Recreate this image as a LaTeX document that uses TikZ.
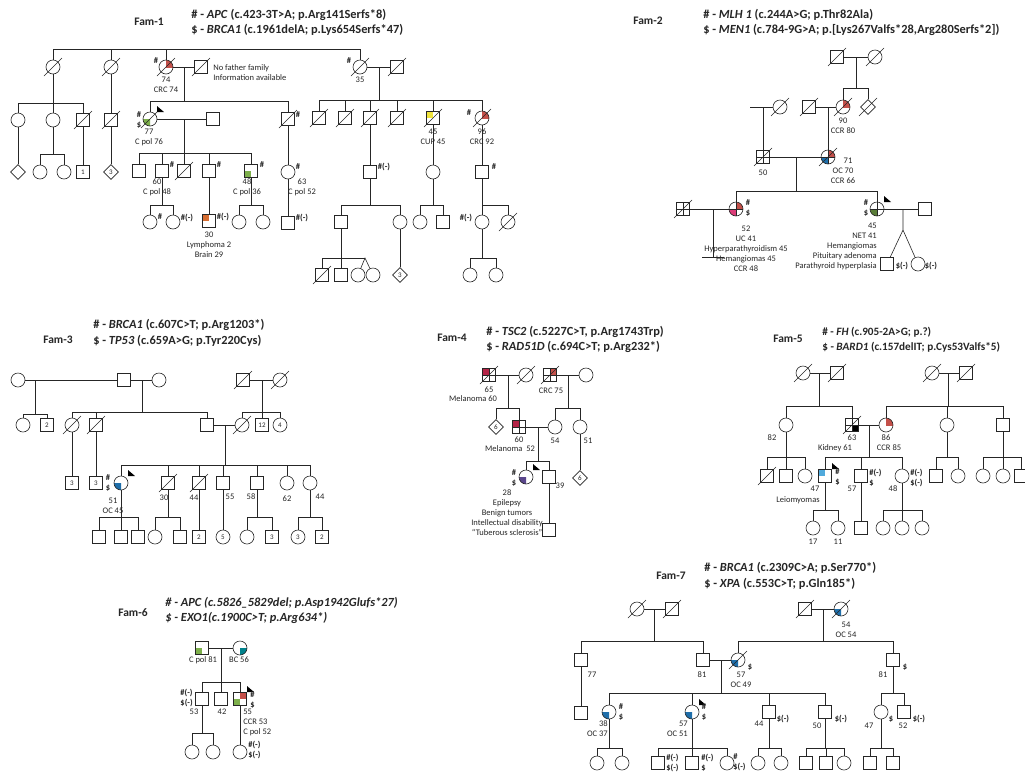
\documentclass[tikz,border=0pt]{standalone}
\usepackage{fontspec}
\setmainfont{Carlito}
\usetikzlibrary{shapes.geometric,backgrounds}

\definecolor{crc}{RGB}{196,80,74}
\definecolor{cpol}{RGB}{125,175,75}
\definecolor{dkgreen}{RGB}{90,125,55}
\definecolor{lymph}{RGB}{215,110,50}
\definecolor{cup}{RGB}{240,228,60}
\definecolor{oc}{RGB}{30,110,170}
\definecolor{uc}{RGB}{220,60,120}
\definecolor{mel}{RGB}{180,35,70}
\definecolor{tsc}{RGB}{90,70,140}
\definecolor{leio}{RGB}{80,170,220}
\definecolor{bc}{RGB}{0,130,140}

\tikzset{
  male/.style={draw, rectangle, minimum size=13pt, inner sep=0pt, font=\fontsize{7}{7}\selectfont},
  female/.style={draw, circle, minimum size=14pt, inner sep=0pt, font=\fontsize{7}{7}\selectfont},
  unk/.style={draw, diamond, minimum size=15pt, inner sep=0pt, font=\fontsize{7}{7}\selectfont},
  lbl/.style={font=\fontsize{8.5}{10}\selectfont, inner sep=0pt, align=center},
  gt/.style={font=\fontsize{8.5}{10}\selectfont\bfseries, inner sep=0pt, align=center},
  hdr/.style={font=\fontsize{12.4}{15.5}\selectfont\bfseries, anchor=west, align=left, inner sep=0pt},
  fam/.style={font=\fontsize{11.5}{13}\selectfont\bfseries, inner sep=0pt}
}

% deceased, quartered, quadrant fills, proband
\newcommand{\dead}[1]{\draw ([shift={(-9pt,-9pt)}]#1.center) -- ([shift={(9pt,9pt)}]#1.center);}
\newcommand{\qline}[1]{\draw (#1.north) -- (#1.south) (#1.west) -- (#1.east);}
\newcommand{\qc}[4]{\begin{scope}[on background layer]\begin{scope}
  \clip (#1.center) rectangle ([shift={(#2*8pt,#3*8pt)}]#1.center);
  \fill[#4] (#1.center) circle[radius=7pt];
  \end{scope}\end{scope}}
\newcommand{\qs}[4]{\begin{scope}[on background layer]
  \fill[#4] (#1.center) rectangle ([shift={(#2*6.5pt,#3*6.5pt)}]#1.center);
  \end{scope}}
\newcommand{\prob}[1]{\fill[black] ([shift={(7pt,13pt)}]#1.center) -- ++(0,6) -- ++(7,0) -- cycle;}
% descent line, sibship line, lines to children
\newcommand{\brood}[5]{\draw (#1) -- (#2) (#3 |- #2) -- (#4 |- #2);
  \foreach \kid in {#5} {\draw (\kid) -- (\kid |- #2);}}

\begin{document}
\begin{tikzpicture}[x=1pt, y=-1pt, line width=0.6pt, color=black!85]
\begin{scope}[on background layer]
\fill[white] (0,0) rectangle (1025,772);
\end{scope}
\useasboundingbox (0,0) rectangle (1025,772);

% ================= Fam-1
\node[fam] (f1) at (149,22) {Fam-1};
\node[hdr] (f1h) at (191,22.5) {\# - \textit{APC} (c.423-3T>A; p.Arg141Serfs*8)\\\$ - \textit{BRCA1} (c.1961delA; p.Lys654Serfs*47)};
\node[female] (a1) at (53,67) {};
\node[female] (a2) at (111,67) {};
\node[female] (a3) at (166,67) {};
\node[male]   (a4) at (201,67) {};
\node[female] (a5) at (360,67) {};
\node[male]   (a6) at (397,67) {};
\coordinate (s0) at (53,49);
\draw (a1) -- (s0) -- (a5 |- s0) -- (a5);
\foreach \kid in {a2,a3} {\draw (\kid) -- (\kid |- s0);}
\draw (a3) -- (a4) (a5) -- (a6);
\node[gt] (a3g) at (156,61) {\#};
\node[lbl] (a3t) at (166,85) {74\\CRC 74};
\node[lbl, anchor=west, align=left] (a4t) at (213,73) {No father family\\Information available};
\node[gt] (a5g) at (349,61) {\#};
\node[lbl] (a5t) at (360,80) {35};

\node[female] (b1) at (18,120) {};
\node[female] (b2) at (53,120) {};
\node[male]   (b3) at (83,120) {};
\node[male]   (b4) at (111,120) {};
\node[female] (b5) at (150,119) {};
\node[male]   (b7) at (213,119) {};
\node[male]   (b6) at (288,119) {};
\node[male]   (b8) at (319,118) {};
\node[male]   (b9) at (345,118) {};
\node[male]   (b10) at (370,118) {};
\node[male]   (b11) at (397,118) {};
\node[male]   (b12) at (433,118) {};
\node[female] (b13) at (482,118) {};
\coordinate (s1) at (53,103); \brood{a1}{s1}{b1}{b3}{b1,b2,b3}
\draw (a2) -- (b4);
\coordinate (m1) at (184,67); \coordinate (s2) at (184,101);
\brood{m1}{s2}{b5}{b6}{b5,b6}
\coordinate (m2) at (379,67); \coordinate (s3) at (379,100);
\brood{m2}{s3}{b8}{b13}{b8,b9,b10,b11,b12,b13}
\draw (b5) -- (b7);
\node[gt] (b5g) at (139,120) {\#\\\$};
\node[lbl] (b5t) at (149,137) {77\\C pol 76};
\node[gt] (b6g) at (298,115) {\#};
\node[lbl] (b12t) at (433,137) {45\\CUP 45};
\node[gt] (b13g) at (469,113) {\#};
\node[lbl] (b13t) at (482,137) {96\\CRC 92};

\node[unk]    (c1) at (18,172) {};
\node[female] (c2) at (40,172) {};
\node[female] (c3) at (64,172) {};
\node[male]   (c4) at (83,172) {1};
\node[unk]    (c5) at (111,172) {3};
\node[male]   (c6) at (139,171) {};
\node[male]   (c7) at (162,171) {};
\node[male]   (c8) at (184,171) {};
\node[male]   (c9) at (209,171) {};
\node[male]   (c10) at (251,171) {};
\node[female] (c11) at (288,172) {};
\node[male]   (c12) at (370,172) {};
\node[female] (c13) at (433,172) {};
\node[male]   (c14) at (482,172) {};
\draw (b1) -- (c1) (b3) -- (c4) (b4) -- (c5);
\coordinate (s4) at (53,154); \brood{b2}{s4}{c2}{c3}{c2,c3}
\coordinate (m3) at (184,119); \coordinate (s5) at (184,153);
\brood{m3}{s5}{c6}{c10}{c6,c7,c8,c9,c10}
\draw (b6) -- (c11) (b10) -- (c12) (b12) -- (c13) (b13) -- (c14);
\node[gt] (c7g) at (172,165) {\#};
\node[gt] (c9g) at (219,165) {\#};
\node[gt] (c10g) at (262,165) {\#};
\node[lbl] (c7t) at (157,187) {60\\C pol 48};
\node[lbl] (c10t) at (247,187) {48\\C pol 36};
\node[gt] (c11g) at (298,167) {\#};
\node[lbl] (c11t) at (302,187) {63\\C pol 52};
\node[gt] (c12g) at (384,167) {\#(-)};
\node[gt] (c14g) at (494,167) {\#};

\node[female] (d1) at (150,222) {};
\node[female] (d2) at (173,222) {};
\node[male]   (d3) at (209,221) {};
\node[female] (d4) at (239,222) {};
\node[female] (d5) at (263,222) {};
\node[male]   (d6) at (288,223) {};
\node[male]   (d7) at (341,222) {};
\node[female] (d8) at (400,222) {};
\node[female] (d9) at (420,222) {};
\node[male]   (d10) at (443,222) {};
\node[female] (d11) at (482,222) {};
\node[female] (d12) at (508,222) {};
\coordinate (s6) at (162,205); \brood{c7}{s6}{d1}{d2}{d1,d2}
\draw (c9) -- (d3) (c11) -- (d6);
\coordinate (s7) at (251,205); \brood{c10}{s7}{d4}{d5}{d4,d5}
\coordinate (s8) at (370,205); \brood{c12}{s8}{d7}{d8}{d7,d8}
\coordinate (s9) at (433,205); \brood{c13}{s9}{d9}{d10}{d9,d10}
\coordinate (s10) at (482,205); \brood{c14}{s10}{d11}{d12}{d11,d12}
\node[gt] (d1g) at (160,217) {\#};
\node[gt] (d2g) at (187,218) {\#(-)};
\node[gt] (d3g) at (223,217) {\#(-)};
\node[lbl] (d3t) at (209,245) {30\\Lymphoma 2\\Brain 29};
\node[gt] (d6g) at (302,218) {\#(-)};
\node[gt] (d11g) at (466,218) {\#(-)};

\node[male]   (e1) at (322,275) {};
\node[male]   (e2) at (341,275) {};
\node[female] (e3) at (358,275) {};
\node[female] (e4) at (373,275) {};
\node[unk]    (e5) at (400,275) {3};
\node[female] (e6) at (470,275) {};
\node[female] (e7) at (496,275) {};
\coordinate (s11) at (341,258); \coordinate (tw1) at (365,258);
\brood{d7}{s11}{e1}{tw1}{e1,e2}
\draw (e3) -- (tw1) -- (e4);
\draw (d8) -- (e5);
\coordinate (s12) at (482,258); \brood{d11}{s12}{e6}{e7}{e6,e7}

\foreach \kid in {a1,a2,a3,a4,a5,a6,b3,b4,b5,b6,b8,b9,b10,b11,b12,b13,c8,d12,e1} {\dead{\kid}}
\qc{a3}{1}{1}{crc} \qc{b13}{1}{1}{crc} \qc{b5}{-1}{-1}{cpol}
\qs{b12}{-1}{1}{cup} \qs{c10}{-1}{-1}{cpol} \qs{d3}{-1}{1}{lymph}
\prob{b5}

% ================= Fam-2
\node[fam] (f2) at (648,21) {Fam-2};
\node[hdr] (f2h) at (703,22.5) {\# - \textit{MLH 1} (c.244A>G; p.Thr82Ala)\\\$ - \textit{MEN1} (c.784-9G>A; p.[Lys267Valfs*28,Arg280Serfs*2])};
\node[male]   (g1) at (837,57) {};
\node[female] (g2) at (875,57) {};
\node[female] (g3) at (843,107) {};
\node[unk]    (g4) at (868,107) {};
\node[male]   (g5) at (809,107) {};
\node[female] (g6) at (780,107) {};
\node[male]   (g7) at (763,157) {};
\node[female] (g8) at (828,157) {};
\node[female] (g9) at (736,209) {};
\node[male]   (g10) at (683,209) {};
\node[female] (g11) at (877,209) {};
\node[male]   (g12) at (925,209) {};
\node[male]   (g13) at (887,264) {};
\node[female] (g14) at (918,264) {};
\draw (g1) -- (g2);
\coordinate (m4) at (856,57); \coordinate (s13) at (856,88);
\brood{m4}{s13}{g3}{g4}{g3,g4}
\draw (g5) -- (g3);
\coordinate (m5) at (828,107); \draw (m5) -- (g8);
\coordinate (g0) at (750,107); \draw (g0) -- (g6);
\coordinate (m6) at (763,107); \draw (m6) -- (g7);
\draw (g7) -- (g8);
\coordinate (m7) at (796,157); \coordinate (s14) at (796,191);
\brood{m7}{s14}{g9}{g11}{g9,g11}
\draw (g10) -- (g9);
\coordinate (m8) at (713,209); \coordinate (nc) at (713,257);
\draw (m8) -- (nc) ([xshift=-11pt]nc) -- ([xshift=11pt]nc);
\draw (g11) -- (g12);
\coordinate (m9) at (903,209); \coordinate (tw2) at (903,230);
\draw (m9) -- (tw2) (g13) -- (tw2) -- (g14);
\foreach \kid in {g7,g8,g9,g10,g11} {\qline{\kid}}
\foreach \kid in {g1,g2,g3,g4,g5,g6,g7,g8,g10} {\dead{\kid}}
\qc{g3}{1}{1}{crc} \qc{g8}{1}{1}{crc} \qc{g8}{-1}{-1}{oc}
\qc{g9}{1}{1}{crc} \qc{g9}{-1}{-1}{uc} \qc{g11}{-1}{-1}{dkgreen}
\prob{g11}
\node[lbl] (g3t) at (843,126) {90\\CCR 80};
\node[lbl] (g7t) at (763,173) {50};
\node[lbl] (g8a) at (848,161) {71};
\node[lbl] (g8t) at (843,176) {OC 70\\CCR 66};
\node[gt] (g9g) at (748,208.5) {\#\\\$};
\node[lbl] (g9t) at (746,249) {52\\UC 41\\Hyperparathyroidism 45\\Hemangiomas 45\\CCR 48};
\node[gt] (g11g) at (866,208.5) {\#\\\$};
\node[lbl, anchor=east, align=right] (g11t) at (877,246) {45\\NET 41\\Hemangiomas\\Pituitary adenoma\\Parathyroid hyperplasia};
\node[gt] (g13g) at (902,266) {\$(-)};
\node[gt] (g14g) at (931,266) {\$(-)};

% ================= Fam-3
\node[fam] (f3) at (58,340) {Fam-3};
\node[hdr] (f3h) at (93,333) {\# - \textit{BRCA1} (c.607C>T; p.Arg1203*)\\\$ - \textit{TP53} (c.659A>G; p.Tyr220Cys)};
\node[female] (h1) at (18,380) {};
\node[male]   (h2) at (124,380) {};
\node[female] (h3) at (159,380) {};
\node[male]   (h4) at (243,380) {};
\node[female] (h5) at (280,380) {};
\node[female] (i1) at (23,425) {};
\node[male]   (i2) at (47,425) {2};
\node[female] (i3) at (72,425) {};
\node[male]   (i4) at (96,425) {};
\node[male]   (i5) at (207,425) {};
\node[female] (i6) at (242,425) {};
\node[male]   (i7) at (262,425) {12};
\node[female] (i8) at (280,425) {4};
\draw (h1) -- (h2) -- (h3) (h4) -- (h5) (i5) -- (i6);
\coordinate (m10) at (35,380); \coordinate (s15) at (35,414);
\brood{m10}{s15}{i1}{i2}{i1,i2}
\coordinate (m11) at (142,380); \coordinate (s16) at (142,412);
\brood{m11}{s16}{i3}{i5}{i3,i4,i5}
\coordinate (m12) at (262,380); \coordinate (s17) at (262,412);
\brood{m12}{s17}{i6}{i8}{i6,i7,i8}
\node[male]   (j8) at (72,483) {3};
\node[male]   (j9) at (96,483) {3};
\node[female] (j1) at (121,483) {};
\node[male]   (j2) at (168,483) {};
\node[male]   (j3) at (199,483) {};
\node[male]   (j4) at (223,483) {};
\node[male]   (j5) at (257,483) {};
\node[female] (j6) at (287,483) {};
\node[female] (j7) at (310,483) {};
\draw (i3) -- (j8) (i4) -- (j9);
\coordinate (m13) at (225,425); \coordinate (s18) at (225,465);
\brood{m13}{s18}{j1}{j7}{j1,j2,j3,j4,j5,j6,j7}
\node[male]   (k1) at (99,537) {};
\node[male]   (k2) at (121,537) {};
\node[male]   (k3) at (138,537) {};
\node[female] (k4) at (155,537) {};
\node[male]   (k5) at (180,537) {};
\node[male]   (k6) at (199,537) {2};
\node[female] (k7) at (223,537) {5};
\node[female] (k8) at (247,537) {};
\node[male]   (k9) at (272,537) {3};
\node[female] (k10) at (298,537) {3};
\node[male]   (k11) at (322,537) {2};
\coordinate (s19) at (121,517); \brood{j1}{s19}{k1}{k3}{k1,k2,k3}
\coordinate (s20) at (168,517); \brood{j2}{s20}{k4}{k5}{k4,k5}
\draw (j3) -- (k6) (j4) -- (k7);
\coordinate (s21) at (257,517); \brood{j5}{s21}{k8}{k9}{k8,k9}
\coordinate (s22) at (310,517); \brood{j7}{s22}{k10}{k11}{k10,k11}
\foreach \kid in {h4,h5,i3,i4,i6,j2,j3} {\dead{\kid}}
\qc{j1}{-1}{-1}{oc}
\prob{j1}
\node[gt] (j1g) at (108,483) {\#\\\$};
\node[lbl] (j1t) at (113,506) {51\\OC 45};
\node[lbl] (j2t) at (164,498) {30};
\node[lbl] (j3t) at (194,498) {44};
\node[lbl] (j4t) at (230,497) {55};
\node[lbl] (j5t) at (251,497) {58};
\node[lbl] (j6t) at (287,499) {62};
\node[lbl] (j7t) at (320,497) {44};

% ================= Fam-4
\node[fam] (f4) at (452,338) {Fam-4};
\node[hdr] (f4h) at (486,339.5) {\# - \textit{TSC2} (c.5227C>T, p.Arg1743Trp)\\\$ - \textit{RAD51D} (c.694C>T; p.Arg232*)};
\node[male]   (w1) at (489,375) {};
\node[female] (w2) at (526,375) {};
\node[male]   (w3) at (550,375) {};
\node[female] (w4) at (586,375) {};
\node[unk]    (w5) at (496,427) {6};
\node[male]   (w6) at (519,427) {};
\node[female] (w7) at (555,427) {};
\node[female] (w8) at (580,427) {};
\node[unk]    (w9) at (580,478) {6};
\node[female] (w10) at (526,477) {};
\node[male]   (w11) at (549,477) {};
\node[male]   (w12) at (549,530) {};
\draw (w1) -- (w2) (w3) -- (w4) (w6) -- (w7);
\coordinate (m14) at (508,375); \coordinate (s23) at (508,408);
\brood{m14}{s23}{w5}{w6}{w5,w6}
\coordinate (m15) at (568,375); \coordinate (s24) at (568,408);
\brood{m15}{s24}{w7}{w8}{w7,w8}
\coordinate (m16) at (538,427); \coordinate (s25) at (538,461);
\brood{m16}{s25}{w10}{w11}{w10,w11}
\draw (w8) -- (w9) (w11) -- (w12);
\foreach \kid in {w1,w3,w6} {\qline{\kid}}
\foreach \kid in {w1,w2,w3} {\dead{\kid}}
\qs{w1}{-1}{1}{mel} \qs{w3}{1}{1}{crc} \qs{w6}{-1}{1}{mel} \qc{w10}{-1}{-1}{tsc}
\prob{w10}
\node[lbl] (w1a) at (489,390) {65};
\node[lbl] (w1t) at (473,399) {Melanoma 60};
\node[lbl] (w3t) at (551,391) {CRC 75};
\node[lbl] (w6a) at (519,440) {60};
\node[lbl] (w6t) at (510,449) {Melanoma~~52};
\node[lbl] (w7t) at (555,441) {54};
\node[lbl] (w8t) at (588,441) {51};
\node[gt] (w10g) at (514,478) {\#\\\$};
\node[lbl] (w10t) at (507,513) {28\\Epilepsy\\Benign tumors\\Intellectual disability\\``Tuberous sclerosis''};
\node[lbl] (w11t) at (560,486) {39};

% ================= Fam-5
\node[fam] (f5) at (788,339) {Fam-5};
\node[hdr, font=\fontsize{11.2}{15.5}\selectfont\bfseries] (f5h) at (822,339.5) {\# - \textit{FH} (c.905-2A>G; p.?)\\\$ - \textit{BARD1} (c.157delIT; p.Cys53Valfs*5)};
\node[female] (n1) at (803,373) {};
\node[male]   (n2) at (837,373) {};
\node[female] (n3) at (932,373) {};
\node[male]   (n4) at (966,373) {};
\node[female] (n5) at (786,425) {};
\node[male]   (n6) at (852,425) {};
\node[female] (n7) at (886,425) {};
\node[female] (n8) at (947,425) {};
\node[male]   (n9) at (1003,425) {};
\draw (n1) -- (n2) (n3) -- (n4) (n6) -- (n7);
\coordinate (m17) at (819,373); \coordinate (s26) at (819,406);
\brood{m17}{s26}{n5}{n6}{n5,n6}
\coordinate (m18) at (948,373); \coordinate (s27) at (948,406);
\brood{m18}{s27}{n7}{n9}{n7,n8,n9}
\node[male]   (o1) at (767,476) {};
\node[male]   (o2) at (786,476) {};
\node[female] (o3) at (805,476) {};
\node[male]   (o4) at (825,476) {};
\node[male]   (o5) at (861,476) {};
\node[female] (o6) at (902,476) {};
\node[male]   (o7) at (936,476) {};
\node[female] (o8) at (958,476) {};
\node[female] (o9) at (983,476) {};
\node[female] (o10) at (1003,476) {};
\node[male]   (o11) at (1021,476) {};
\coordinate (m19) at (869,425); \coordinate (s28) at (869,457);
\brood{m19}{s28}{o4}{o6}{o4,o5,o6}
\coordinate (s29) at (786,457); \brood{n5}{s29}{o1}{o3}{o1,o2,o3}
\coordinate (s30) at (947,457); \brood{n8}{s30}{o7}{o8}{o7,o8}
\coordinate (s31) at (1003,457); \brood{n9}{s31}{o9}{o11}{o9,o10,o11}
\node[female] (p1) at (813,528) {};
\node[female] (p2) at (838,528) {};
\node[male]   (p3) at (861,528) {};
\node[female] (p4) at (883,528) {};
\node[female] (p5) at (902,528) {};
\node[female] (p6) at (922,528) {};
\coordinate (s32) at (825,510); \brood{o4}{s32}{p1}{p2}{p1,p2}
\draw (o5) -- (p3);
\coordinate (s33) at (902,510); \brood{o6}{s33}{p4}{p6}{p4,p5,p6}
\qline{n6}
\foreach \kid in {n1,n2,n3,n4,n6,o1} {\dead{\kid}}
\qs{n6}{1}{-1}{black} \qc{n7}{1}{1}{crc} \qs{o4}{-1}{1}{leio}
\prob{o4}
\node[lbl] (n5t) at (772,438) {82};
\node[lbl] (n6a) at (852,438) {63};
\node[lbl] (n6t) at (835,448) {Kidney 61};
\node[lbl] (n7a) at (886,438) {86};
\node[lbl] (n7t) at (889,448) {CCR 85};
\node[gt, anchor=west, align=left] (o4g) at (835,477.5) {\#\\\$};
\node[lbl] (o4a) at (815,489) {47};
\node[lbl] (o4t) at (798,500) {Leiomyomas};
\node[gt, anchor=west, align=left] (o5g) at (869,477.5) {\#(-)\\\$};
\node[lbl] (o5t) at (852,489) {57};
\node[gt, anchor=west, align=left] (o6g) at (910,477.5) {\#(-)\\\$(-)};
\node[lbl] (o6t) at (893,489) {48};
\node[lbl] (p1t) at (813,542) {17};
\node[lbl] (p2t) at (838,542) {11};

% ================= Fam-6
\node[fam] (f6) at (133,613) {Fam-6};
\node[hdr] (f6h) at (165,610.5) {\textit{\# - APC (c.5826\_5829del; p.Asp1942Glufs*27)}\\\textit{\$ - EXO1(c.1900C>T; p.Arg634*)}};
\node[male]   (q1) at (202,648) {};
\node[female] (q2) at (240,648) {};
\node[male]   (q3) at (202,699) {};
\node[male]   (q4) at (221,699) {};
\node[male]   (q5) at (240,699) {};
\node[female] (r1) at (192,752) {};
\node[female] (r2) at (213,752) {};
\node[female] (r3) at (240,752) {};
\draw (q1) -- (q2);
\coordinate (m20) at (221,648); \coordinate (s34) at (221,682);
\brood{m20}{s34}{q3}{q5}{q3,q4,q5}
\coordinate (s35) at (202,733); \brood{q3}{s35}{r1}{r2}{r1,r2}
\draw (q5) -- (r3);
\qs{q1}{-1}{-1}{cpol} \qc{q2}{1}{-1}{bc} \qs{q5}{1}{1}{crc} \qs{q5}{-1}{-1}{cpol}
\prob{q5}
\node[lbl] (q1t) at (203,660) {C pol 81};
\node[lbl] (q2t) at (239,660) {BC 56};
\node[gt, anchor=east, align=left] (q3g) at (193,698) {\#(-)\\\$(-)};
\node[lbl] (q3t) at (194,712) {53};
\node[lbl] (q4t) at (222,712) {42};
\node[gt, anchor=west, align=left] (q5g) at (250,700) {\#\\\$};
\node[lbl, anchor=west, align=left] (q5t) at (243,722.5) {55\\CCR 53\\C pol 52};
\node[gt, anchor=west, align=left] (r3g) at (248,750) {\#(-)\\\$(-)};

% ================= Fam-7
\node[fam] (f7) at (671,576) {Fam-7};
\node[hdr] (f7h) at (704,576) {\# - \textit{BRCA1} (c.2309C>A; p.Ser770*)\\\$ - \textit{XPA} (c.553C>T; p.Gln185*)};
\node[female] (y1) at (637,609) {};
\node[male]   (y2) at (672,609) {};
\node[male]   (y3) at (805,609) {};
\node[female] (y4) at (841,609) {};
\node[male]   (t1) at (581,660) {};
\node[male]   (t2) at (703,660) {};
\node[female] (t3) at (738,660) {};
\node[male]   (t4) at (893,660) {};
\draw (y1) -- (y2) (y3) -- (y4) (t2) -- (t3);
\coordinate (m21) at (654,609); \coordinate (s36) at (654,641);
\brood{m21}{s36}{t1}{t2}{t1,t2}
\coordinate (m22) at (823,609); \coordinate (s37) at (823,641);
\brood{m22}{s37}{t3}{t4}{t3,t4}
\node[male]   (u0) at (581,713) {};
\node[female] (u1) at (609,712) {};
\node[female] (u2) at (692,712) {};
\node[male]   (u3) at (769,712) {};
\node[male]   (u4) at (825,712) {};
\node[female] (u5) at (881,712) {};
\node[male]   (u6) at (904,712) {};
\draw (t1) -- (u0);
\coordinate (m23) at (721,660); \coordinate (s38) at (721,693);
\brood{m23}{s38}{u1}{u4}{u1,u2,u3,u4}
\coordinate (s39) at (893,693); \brood{t4}{s39}{u5}{u6}{u5,u6}
\node[female] (v1) at (597,763) {};
\node[female] (v2) at (622,763) {};
\node[male]   (v3) at (658,763) {};
\node[male]   (v4) at (692,763) {};
\node[female] (v5) at (727,763) {};
\node[female] (v6) at (758,763) {};
\node[female] (v7) at (781,763) {};
\node[male]   (v8) at (806,763) {};
\node[male]   (v9) at (826,763) {};
\node[female] (v10) at (844,763) {};
\node[male]   (v11) at (870,763) {};
\node[male]   (v12) at (893,763) {};
\coordinate (s40) at (609,748); \brood{u1}{s40}{v1}{v2}{v1,v2}
\coordinate (s41) at (692,748); \brood{u2}{s41}{v3}{v5}{v3,v4,v5}
\coordinate (s42) at (769,748); \brood{u3}{s42}{v6}{v7}{v6,v7}
\coordinate (s43) at (825,748); \brood{u4}{s43}{v8}{v10}{v8,v9,v10}
\coordinate (s44) at (881,748); \brood{u5}{s44}{v11}{v12}{v11,v12}
\foreach \kid in {y1,y2,y3,y4,t3} {\dead{\kid}}
\qc{y4}{-1}{-1}{oc} \qc{t3}{-1}{-1}{oc} \qc{u1}{-1}{-1}{oc} \qc{u2}{-1}{-1}{oc}
\prob{u2}
\node[lbl] (y4t) at (846,630) {54\\OC 54};
\node[lbl] (t1t) at (592,675) {77};
\node[lbl] (t2t) at (702,675) {81};
\node[gt] (t3g) at (750,667) {\$};
\node[lbl] (t3t) at (741,680) {57\\OC 49};
\node[gt] (t4g) at (905,667) {\$};
\node[lbl] (t4t) at (883,675) {81};
\node[gt] (u1g) at (621,712) {\#\\\$};
\node[lbl, anchor=east, align=right] (u1t) at (608,729) {38\\OC 37};
\node[gt] (u2g) at (704,712) {\#\\\$};
\node[lbl, anchor=east, align=right] (u2t) at (688,729) {57\\OC 51};
\node[gt] (u3g) at (783,719) {\$(-)};
\node[lbl] (u3t) at (759,724) {44};
\node[gt] (u4g) at (841,719) {\$(-)};
\node[lbl] (u4t) at (817,726) {50};
\node[gt] (u5g) at (891,719) {\$};
\node[lbl] (u5t) at (869,726) {47};
\node[gt] (u6g) at (919,719) {\$(-)};
\node[lbl] (u6t) at (903,726) {52};
\node[gt, anchor=west, align=left] (v3g) at (666,763) {\#(-)\\\$(-)};
\node[gt, anchor=west, align=left] (v4g) at (701,763) {\#(-)\\\$};
\node[gt, anchor=west, align=left] (v5g) at (733,762) {\#\\\$(-)};
\end{tikzpicture}
\end{document}
